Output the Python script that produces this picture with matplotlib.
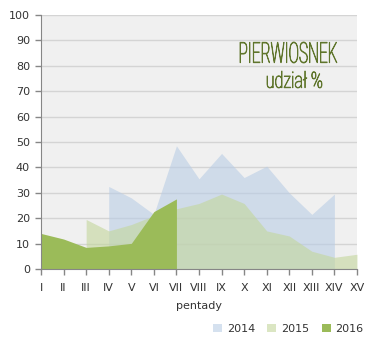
import numpy as np
import matplotlib.pyplot as plt
from matplotlib.patches import Patch, PathPatch
from matplotlib.textpath import TextPath
from matplotlib.font_manager import FontProperties
from matplotlib.transforms import Affine2D, IdentityTransform

pentady = ["I", "II", "III", "IV", "V", "VI", "VII", "VIII", "IX", "X",
           "XI", "XII", "XIII", "XIV", "XV"]

# udział pierwiosnka w kolejnych pentadach (NaN = brak danych)
y2014 = [np.nan, np.nan, np.nan, 32.5, 28, 21.5, 48.5, 35.5, 45.5, 36,
         40.5, 30, 21.5, 29.5, np.nan]
y2015 = [np.nan, np.nan, 19.5, 15, 17.5, 21, 23.7, 25.8, 29.5, 25.8,
         15, 13, 7, 4.6, 5.8]
y2016 = [14, 11.8, 8.5, 9.1, 10.1, 22.6, 27.6, np.nan, np.nan, np.nan,
         np.nan, np.nan, np.nan, np.nan, np.nan]

lata = ["2014", "2015", "2016"]
kolory = ["#b9cde5", "#c3d69b", "#9bbb59"]
alfy = [0.6, 0.6, 1.0]

W, H = 373, 348
txt = "#333333"
fig = plt.figure(figsize=(W / 100, H / 100), dpi=100)
ax = fig.add_axes([0.110, 0.227, 0.847, 0.730])
ax.set_facecolor("#f0f0f0")

x = np.arange(len(pentady))
for dane, kol, a in zip([y2014, y2015, y2016], kolory, alfy):
    d = np.array(dane, dtype=float)
    ok = ~np.isnan(d)
    ax.fill_between(x[ok], 0, d[ok], color=kol, alpha=a, lw=0, zorder=2)

ax.set_xlim(0, len(pentady) - 1)
ax.set_ylim(0, 100)
ax.set_yticks(range(0, 101, 10))
ax.set_xticks(x)
ax.set_xticklabels(pentady)
ax.grid(axis="y", color="#d4d4d4", lw=1, zorder=1)
ax.set_axisbelow(True)

for s in ["top", "right"]:
    ax.spines[s].set_visible(False)
for s in ["left", "bottom"]:
    ax.spines[s].set_color("#868686")
    ax.spines[s].set_zorder(5)
ax.tick_params(colors="#868686", labelcolor=txt, labelsize=8, length=4, width=1)
ax.tick_params(axis="y", pad=4)
ax.tick_params(axis="x", pad=6)
ax.set_xlabel("pentady", fontsize=8, color=txt, labelpad=6)


def napis(s, x0, x1, ytop, ybot):
    # wąski, wysoki napis wpasowany w prostokąt (piksele, y od góry)
    tp = TextPath((0, 0), s, size=20,
                  prop=FontProperties(family="Roboto", weight="light"))
    b = tp.get_extents()
    tr = (Affine2D().translate(-b.x0, -b.y0)
          .scale((x1 - x0) / b.width, (ybot - ytop) / b.height)
          .translate(x0, H - ybot))
    fig.patches.append(PathPatch(tp, transform=tr + IdentityTransform(),
                                 facecolor="#8aa838", edgecolor="#5f752c",
                                 lw=0.6, figure=fig))


napis("PIERWIOSNEK", 240, 337, 42, 63)
napis("udział %", 267, 322, 71, 88)

uchwyty = [Patch(facecolor=k, alpha=a, edgecolor="none") for k, a in zip(kolory, alfy)]
fig.legend(uchwyty, lata, loc="center right", bbox_to_anchor=(0.975, 0.055),
           ncol=3, frameon=False, fontsize=8, handlelength=0.8, handleheight=0.8,
           handletextpad=0.45, columnspacing=1.1, borderaxespad=0, borderpad=0,
           labelcolor=txt)

fig.savefig("out.png", dpi=100)
